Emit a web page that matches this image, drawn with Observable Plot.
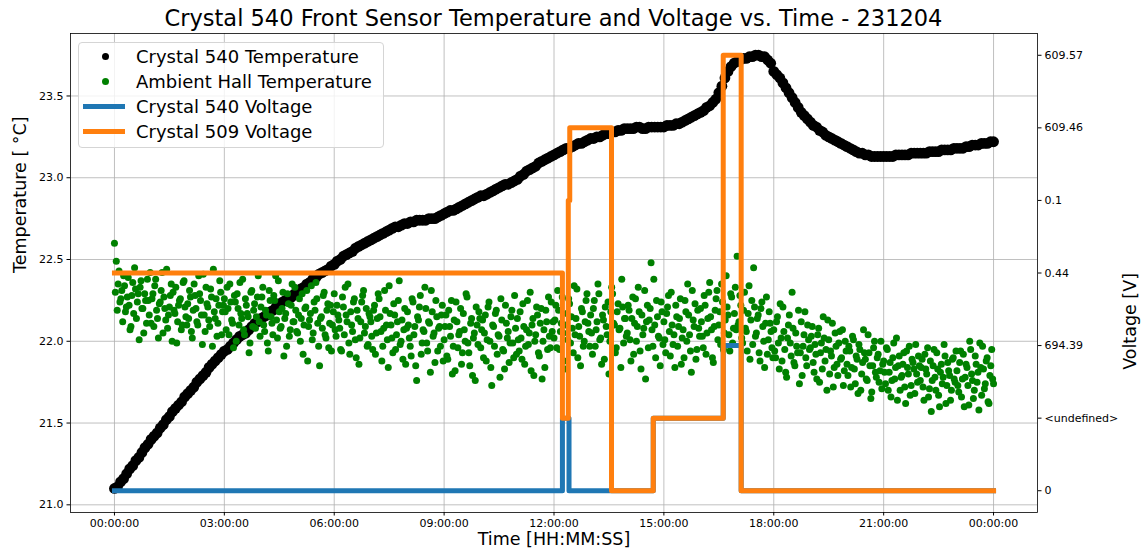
<!DOCTYPE html>
<html>
<head>
<meta charset="utf-8">
<script src="https://cdn.jsdelivr.net/npm/d3@7"></script>
<script src="https://cdn.jsdelivr.net/npm/@observablehq/plot@0.6"></script>
<style>
  body { margin: 0; background: #fff; font-family: "DejaVu Sans", sans-serif; }
  #wrap { position: relative; width: 1143px; height: 554px; overflow: hidden; }
  #title { position: absolute; left: 70px; width: 967px; top: 0; height: 33px; line-height: 36px; text-align: center; font-size: 22.5px; color: #000; white-space: nowrap; }
  #chart { position: absolute; left: 0; top: 32px; }
  #legend { position: absolute; left: 78px; top: 42px; width: 304px; height: 104px; border: 1px solid #d5d5d5; border-radius: 4px; background: rgba(255,255,255,0.8); }
  .row { position: absolute; left: 0; width: 300px; height: 25px; }
  .row .lab { position: absolute; left: 57px; top: 0; line-height: 25px; font-size: 18px; color: #000; white-space: nowrap; }
  .row .dot { position: absolute; left: 23px; top: 9px; width: 7px; height: 7px; border-radius: 50%; }
  .row .ln { position: absolute; left: 4px; top: 10px; width: 42px; height: 5px; }
</style>
</head>
<body>
<div id="wrap">
  <div id="title"></div>
  <div id="chart"></div>
  <div id="legend"></div>
</div>
<script>
// ---------------- data ----------------
const chartTitle = "Crystal 540 Front Sensor Temperature and Voltage vs. Time - 231204";
const xLabel = "Time [HH:MM:SS]";
const yLabelLeft = "Temperature [ °C]";
const yLabelRight = "Voltage [V]";
const seriesNames = ["Crystal 540 Temperature", "Ambient Hall Temperature", "Crystal 540 Voltage", "Crystal 509 Voltage"];

// Crystal 540 temperature, one sample every 5 minutes from 00:00:00
const crystalTempStepMin = 5;
const crystalTemp = [
  21.10, 21.11, 21.14, 21.16, 21.19, 21.22, 21.24, 21.27, 21.29, 21.32, 21.35, 21.37,
  21.40, 21.42, 21.44, 21.47, 21.49, 21.52, 21.54, 21.57, 21.59, 21.61, 21.63, 21.66,
  21.68, 21.70, 21.72, 21.75, 21.77, 21.79, 21.81, 21.84, 21.86, 21.88, 21.90, 21.92,
  21.94, 21.95, 21.97, 21.99, 22.01, 22.03, 22.04, 22.05, 22.07, 22.09, 22.11, 22.12,
  22.14, 22.15, 22.16, 22.18, 22.19, 22.21, 22.22, 22.24, 22.25, 22.26, 22.27, 22.29,
  22.30, 22.32, 22.33, 22.35, 22.36, 22.38, 22.39, 22.41, 22.42, 22.43, 22.44, 22.46,
  22.47, 22.49, 22.50, 22.52, 22.53, 22.54, 22.55, 22.57, 22.58, 22.59, 22.60, 22.61,
  22.62, 22.63, 22.64, 22.65, 22.66, 22.67, 22.68, 22.69, 22.70, 22.70, 22.71, 22.72,
  22.72, 22.73, 22.73, 22.74, 22.74, 22.74, 22.74, 22.75, 22.75, 22.75, 22.76, 22.77,
  22.78, 22.79, 22.80, 22.80, 22.81, 22.82, 22.83, 22.84, 22.85, 22.86, 22.87, 22.88,
  22.89, 22.89, 22.90, 22.91, 22.92, 22.93, 22.94, 22.95, 22.96, 22.96, 22.97, 22.98,
  22.99, 23.01, 23.02, 23.04, 23.05, 23.06, 23.07, 23.09, 23.10, 23.11, 23.12, 23.13,
  23.14, 23.15, 23.16, 23.17, 23.18, 23.18, 23.19, 23.20, 23.21, 23.21, 23.22, 23.23,
  23.24, 23.24, 23.25, 23.25, 23.26, 23.27, 23.27, 23.28, 23.28, 23.29, 23.29, 23.30,
  23.30, 23.30, 23.30, 23.31, 23.31, 23.30, 23.30, 23.31, 23.31, 23.31, 23.31, 23.31,
  23.31, 23.32, 23.32, 23.32, 23.33, 23.33, 23.34, 23.35, 23.36, 23.37, 23.38, 23.39,
  23.40, 23.41, 23.43, 23.44, 23.46, 23.48, 23.52, 23.56, 23.61, 23.65, 23.68, 23.70,
  23.71, 23.72, 23.73, 23.73, 23.74, 23.74, 23.75, 23.75, 23.74, 23.74, 23.72, 23.70,
  23.65, 23.63, 23.61, 23.58, 23.55, 23.52, 23.49, 23.46, 23.43, 23.40, 23.38, 23.36,
  23.34, 23.32, 23.31, 23.29, 23.28, 23.26, 23.25, 23.24, 23.23, 23.22, 23.21, 23.20,
  23.19, 23.18, 23.17, 23.16, 23.15, 23.15, 23.14, 23.14, 23.13, 23.13, 23.13, 23.13,
  23.13, 23.13, 23.13, 23.13, 23.14, 23.14, 23.14, 23.14, 23.14, 23.15, 23.15, 23.15,
  23.15, 23.15, 23.15, 23.16, 23.16, 23.16, 23.16, 23.17, 23.17, 23.17, 23.17, 23.18,
  23.18, 23.18, 23.18, 23.19, 23.19, 23.20, 23.20, 23.20, 23.21, 23.21, 23.21, 23.22,
  23.22
];

// Ambient hall temperature: samples every 3 minutes from 00:00:00 ...
const ambientStepMin = 3;
const ambientTemp = [
  22.60, 22.49, 22.35, 22.24, 22.31, 22.40, 22.18, 22.27, 22.22, 22.09, 22.36, 22.45, 22.14, 22.29, 22.33, 22.20, 22.05, 22.25, 22.38, 22.16,
  22.11, 22.29, 22.34, 22.19, 22.02, 22.24, 22.42, 22.27, 22.13, 22.08, 22.21, 22.35, 22.30, 22.17, 21.99, 22.22, 22.26, 22.10, 22.37, 22.15,
  22.23, 22.31, 22.06, 22.19, 22.28, 22.12, 22.40, 22.25, 21.98, 22.16, 22.33, 22.21, 22.09, 22.27, 22.44, 22.14, 22.03, 22.22, 22.30, 22.18,
  22.26, 22.07, 22.20, 22.35, 22.13, 21.96, 22.24, 22.29, 22.10, 22.17, 22.38, 22.04, 22.22, 22.15, 21.99, 22.31, 22.19, 22.08, 22.27, 22.12,
  22.21, 22.33, 22.06, 22.16, 21.94, 22.25, 22.11, 22.28, 22.40, 22.02, 22.18, 22.09, 22.30, 22.14, 21.97, 22.23, 22.07, 22.35, 22.12, 22.19,
  22.05, 22.26, 22.14, 21.92, 22.20, 22.31, 22.09, 22.17, 22.01, 22.24, 22.36, 22.11, 21.85, 22.15, 22.28, 22.04, 22.19, 21.96, 22.22, 22.10,
  22.29, 22.03, 22.16, 22.08, 21.94, 22.21, 22.33, 22.12, 21.99, 22.18, 22.06, 22.26, 21.90, 22.14, 22.02, 22.24, 22.31, 22.09, 21.97, 22.17,
  22.12, 21.95, 22.22, 22.05, 22.29, 22.15, 21.88, 22.08, 22.19, 22.01, 22.34, 22.10, 21.93, 22.16, 22.04, 22.25, 21.98, 22.13, 22.07, 21.86,
  22.18, 22.02, 21.91, 22.24, 22.09, 21.76, 22.13, 22.28, 21.99, 22.06, 22.20, 21.94, 22.11, 22.31, 22.03, 21.87, 22.15, 22.08, 21.97, 22.22,
  22.01, 22.16, 21.89, 22.09, 22.25, 21.97, 21.82, 22.12, 22.04, 22.20, 21.93, 22.07, 22.29, 21.99, 21.85, 22.14, 22.02, 21.76, 22.10, 22.18,
  21.96, 22.13, 22.05, 21.88, 22.21, 22.00, 21.73, 22.09, 22.17, 21.92, 22.03, 22.26, 21.95, 21.83, 22.11, 22.06, 21.99, 22.19, 21.90, 22.08,
  22.14, 21.94, 22.02, 22.23, 21.86, 22.07, 21.98, 22.30, 22.10, 21.79, 22.04, 22.16, 21.91, 22.20, 22.00, 21.84, 22.12, 22.27, 21.96, 22.06,
  22.02, 22.22, 22.31, 21.95, 22.11, 22.05, 21.83, 22.17, 22.26, 21.99, 22.08, 22.34, 22.14, 21.90, 22.03, 22.20, 21.97, 22.12, 22.29, 22.06,
  22.16, 21.92, 22.25, 22.07, 22.35, 22.01, 21.86, 22.13, 22.21, 22.04, 21.80, 22.18, 22.29, 22.10, 21.96, 22.23, 22.08, 22.38, 21.99, 22.14,
  22.05, 22.19, 21.88, 22.27, 22.11, 22.00, 22.33, 21.94, 22.16, 22.08, 21.77, 22.22, 22.13, 22.48, 21.97, 22.10, 22.25, 22.03, 21.85, 22.18,
  22.12, 21.93, 22.21, 22.06, 22.30, 21.98, 21.84, 22.15, 22.09, 22.26, 22.02, 21.90, 22.18, 22.35, 22.04, 21.81, 22.13, 22.23, 21.95, 22.08,
  22.20, 22.03, 22.28, 21.92, 22.14, 22.36, 22.07, 21.87, 22.19, 22.31, 22.10, 21.98, 22.24, 22.05, 22.40, 22.16, 21.94, 22.27, 22.08, 22.33,
  22.52, 22.12, 22.22, 21.99, 22.30, 22.06, 22.17, 21.89, 22.25, 22.45, 22.03, 22.14, 21.93, 22.20, 22.09, 21.84, 22.27, 22.01, 22.11, 21.96,
  22.07, 21.90, 22.15, 21.83, 22.02, 22.21, 21.95, 21.78, 22.10, 21.99, 22.30, 21.87, 22.05, 21.93, 21.74, 22.12, 21.97, 22.18, 21.85, 22.01,
  21.96, 22.09, 21.81, 21.92, 22.04, 21.75, 21.99, 22.15, 21.88, 21.70, 22.01, 21.94, 22.11, 21.84, 21.97, 21.79, 22.06, 21.90, 21.73, 22.00,
  21.86, 21.97, 21.72, 22.03, 21.83, 21.91, 21.68, 21.95, 21.80, 22.07, 21.89, 21.76, 21.93, 21.65, 21.85, 22.00, 21.78, 21.92, 21.82, 21.71,
  21.88, 21.74, 21.95, 21.81, 21.66, 21.90, 21.77, 22.02, 21.85, 21.70, 21.79, 21.93, 21.62, 21.84, 21.97, 21.73, 21.87, 21.68, 21.80, 21.91,
  21.76, 21.89, 21.64, 21.83, 21.96, 21.71, 21.57, 21.85, 21.78, 21.93, 21.67, 21.81, 21.74, 21.98, 21.62, 21.87, 21.79, 21.70, 21.90, 21.75,
  21.82, 21.69, 21.94, 21.77, 21.60, 21.86, 21.73, 22.00, 21.80, 21.65, 21.91, 21.75, 21.58, 21.84, 21.97, 21.71, 21.88, 21.63, 21.79, 21.95,
  21.74
];
// ... and the readings taken in between, every 3 minutes from 00:01:30
const ambientOffsetMin = 1.5;
const ambientTempBetween = [
  22.30, 22.19, 22.43, 22.26, 22.12, 22.34, 22.21, 22.39, 22.07, 22.28, 22.17, 22.32, 22.24, 22.01, 22.37, 22.20, 22.29, 22.11, 22.25, 22.42,
  22.26, 22.09, 22.38, 22.14, 22.23, 22.31, 22.05, 22.20, 22.44, 22.16, 22.28, 22.00, 22.19, 22.33, 22.12, 22.25, 22.07, 22.36, 22.21, 22.10,
  22.14, 22.27, 22.02, 22.35, 22.20, 22.10, 22.29, 22.16, 22.41, 22.06, 22.23, 22.13, 22.32, 21.97, 22.18, 22.26, 22.11, 22.37, 22.04, 22.22,
  22.18, 22.33, 22.04, 22.24, 22.11, 22.28, 22.00, 22.20, 22.36, 22.14, 22.07, 22.26, 22.17, 21.93, 22.30, 22.09, 22.23, 22.15, 22.40, 22.03,
  22.27, 22.10, 22.19, 21.99, 22.31, 22.15, 22.04, 22.25, 22.13, 22.37, 22.08, 22.20, 21.91, 22.17, 22.29, 22.03, 22.22, 22.12, 22.33, 22.06,
  22.16, 22.00, 22.29, 22.10, 22.21, 21.88, 22.13, 22.34, 22.05, 22.19, 22.26, 21.97, 22.14, 22.08, 22.30, 22.02, 22.23, 22.11, 21.94, 22.18,
  22.07, 22.22, 22.13, 21.95, 22.27, 22.04, 22.16, 22.35, 21.92, 22.10, 22.24, 22.01, 22.19, 21.86, 22.12, 22.28, 22.05, 22.20, 21.98, 22.15,
  22.03, 22.19, 21.92, 22.14, 22.26, 22.06, 21.97, 22.31, 22.10, 21.84, 22.17, 22.02, 22.23, 21.95, 22.12, 22.37, 22.00, 21.89, 22.20, 22.08,
  22.10, 21.97, 22.26, 22.04, 21.85, 22.15, 22.21, 21.92, 22.07, 22.33, 21.99, 22.12, 21.81, 22.18, 22.05, 22.25, 21.94, 22.09, 22.16, 21.88,
  22.09, 21.91, 22.19, 22.03, 21.80, 22.13, 22.24, 21.96, 22.06, 21.86, 22.17, 22.00, 22.27, 21.93, 22.11, 21.79, 22.05, 22.21, 21.98, 22.14,
  22.07, 21.90, 22.16, 22.01, 22.24, 21.84, 22.10, 21.97, 22.19, 22.04, 21.78, 22.13, 21.94, 22.22, 22.02, 21.87, 22.15, 21.99, 22.28, 21.92,
  22.01, 22.18, 21.89, 22.09, 21.97, 22.25, 22.05, 21.82, 22.14, 22.00, 22.21, 21.93, 22.11, 21.77, 22.07, 22.19, 21.95, 22.03, 22.24, 22.12,
  22.13, 21.96, 22.19, 22.06, 22.27, 21.88, 22.10, 22.01, 22.23, 22.15, 21.93, 22.04, 22.32, 22.09, 21.85, 22.18, 22.00, 22.25, 22.11, 21.97,
  22.05, 22.20, 21.97, 22.12, 22.29, 22.02, 22.16, 21.89, 22.09, 22.24, 22.00, 22.33, 22.11, 21.93, 22.18, 22.07, 21.84, 22.21, 22.14, 22.03,
  22.22, 22.01, 22.14, 21.92, 22.26, 22.09, 22.18, 21.83, 22.04, 22.31, 22.12, 21.96, 22.20, 22.07, 22.38, 21.90, 22.15, 22.02, 22.24, 21.98,
  22.01, 22.17, 22.28, 21.91, 22.10, 22.04, 22.22, 21.97, 22.14, 21.86, 22.07, 22.25, 22.00, 22.16, 21.94, 22.31, 22.09, 21.89, 22.19, 22.03,
  22.12, 21.96, 22.22, 22.05, 22.30, 22.15, 21.90, 22.09, 22.26, 22.01, 22.18, 22.35, 21.95, 22.13, 22.21, 22.04, 22.29, 21.99, 22.17, 22.07,
  22.10, 22.28, 22.02, 22.19, 22.08, 21.94, 22.34, 22.13, 21.98, 22.21, 22.05, 22.16, 21.88, 22.24, 22.00, 22.11, 21.92, 22.18, 22.06, 21.90,
  21.94, 22.12, 21.99, 22.23, 21.88, 22.06, 21.81, 22.02, 22.16, 21.91, 22.08, 21.85, 21.97, 22.19, 21.93, 21.79, 22.04, 21.90, 22.10, 21.95,
  22.03, 21.87, 21.98, 21.77, 22.08, 21.93, 21.83, 22.02, 21.95, 22.13, 21.80, 21.91, 21.72, 22.05, 21.86, 21.99, 21.89, 22.07, 21.82, 21.94,
  21.79, 21.94, 21.84, 22.01, 21.74, 21.89, 21.98, 21.70, 21.87, 21.93, 21.77, 22.04, 21.85, 21.69, 21.96, 21.81, 21.90, 21.75, 22.00, 21.86,
  21.81, 21.96, 21.70, 21.87, 21.76, 21.99, 21.84, 21.64, 21.91, 21.78, 21.86, 21.72, 21.94, 21.80, 21.67, 21.89, 21.83, 21.98, 21.75, 21.85,
  21.84, 21.72, 21.92, 21.80, 21.66, 21.88, 21.76, 21.95, 21.70, 21.83, 21.60, 21.86, 21.78, 21.91, 21.73, 21.82, 21.64, 21.89, 21.77, 21.94,
  21.73, 21.87, 21.66, 21.92, 21.78, 21.84, 21.61, 21.95, 21.76, 21.70, 21.86, 21.81, 21.99, 21.67, 21.83, 21.74, 21.90, 21.62, 21.85, 21.77
];

// Voltage readings (categorical axis, in order of first appearance)
const voltageCategories = ["0", "<undefined>", "694.39", "0.44", "0.1", "609.46", "609.57"];
const c540VoltHours  = [0, 12.23, 12.41, 14.71, 16.62, 17.11, 24];
const c540VoltValues = ["0", "<undefined>", "0", "<undefined>", "694.39", "0", "0"];
const c509VoltHours  = [0, 12.23, 12.39, 12.43, 13.57, 14.71, 16.62, 17.11, 24];
const c509VoltValues = ["0.44", "<undefined>", "0.1", "609.46", "0", "<undefined>", "609.57", "0", "0"];

// axis ticks
const xTickHours = [0, 3, 6, 9, 12, 15, 18, 21, 24];
const yTicks = [21.0, 21.5, 22.0, 22.5, 23.0, 23.5];

// ---------------- build ----------------
const T0 = Date.UTC(2023, 11, 4);
const toDate = h => new Date(T0 + h * 3600e3);
const yDomain = [20.953, 23.882];           // temperature axis
const vDomain = [-0.3, 6.3];                // voltage category-index axis
const vToY = d3.scaleLinear().domain(vDomain).range(yDomain);
const voltY = label => vToY(voltageCategories.indexOf(label));

const crystalData = crystalTemp.map((t, i) => ({time: toDate(i * crystalTempStepMin / 60), temp: t}));
const ambientData = ambientTemp.map((t, i) => ({time: toDate(i * ambientStepMin / 60), temp: t}))
  .concat(ambientTempBetween.map((t, i) => ({time: toDate((ambientOffsetMin + i * ambientStepMin) / 60), temp: t})))
  .sort((a, b) => a.time - b.time);
const c540Data = c540VoltHours.map((h, i) => ({time: toDate(h), v: voltY(c540VoltValues[i])}));
const c509Data = c509VoltHours.map((h, i) => ({time: toDate(h), v: voltY(c509VoltValues[i])}));
const xTicks = xTickHours.map(toDate);
const vTicks = voltageCategories.map(voltY);
const fmtTime = d3.utcFormat("%H:%M:%S");

const gridStyle = {stroke: "#b0b0b0", strokeOpacity: 1, strokeWidth: 0.8};

const chart = Plot.plot({
  width: 1143,
  height: 522,
  marginTop: 1,
  marginLeft: 70,
  marginRight: 106,
  marginBottom: 42,
  style: {fontFamily: "DejaVu Sans, sans-serif", fontSize: "11px", color: "#000", background: "transparent"},
  x: {type: "utc", domain: [toDate(-1.2), toDate(25.2)]},
  y: {domain: yDomain},
  marks: [
    Plot.gridX(xTicks, gridStyle),
    Plot.gridY(yTicks, gridStyle),
    Plot.dot(crystalData, {x: "time", y: "temp", r: 5.4, fill: "black", stroke: null}),
    Plot.dot(ambientData, {x: "time", y: "temp", r: 3.5, fill: "green", stroke: null}),
    Plot.line(c540Data, {x: "time", y: "v", curve: "step-after", stroke: "#1f77b4", strokeWidth: 5, strokeLinecap: "square", strokeLinejoin: "round"}),
    Plot.line(c509Data, {x: "time", y: "v", curve: "step-after", stroke: "#ff7f0e", strokeWidth: 5, strokeLinecap: "square", strokeLinejoin: "round"}),
    Plot.frame({stroke: "#000", strokeWidth: 0.8}),
    Plot.axisX(xTicks, {tickFormat: fmtTime, tickSize: 3.5, tickPadding: 3.5, label: null, fontSize: 11}),
    Plot.axisY(yTicks, {anchor: "left", tickFormat: d3.format(".1f"), tickSize: 3.5, tickPadding: 3.5, label: null, fontSize: 11}),
    Plot.axisY(vTicks, {anchor: "right", tickFormat: d => voltageCategories[Math.round(vToY.invert(d))], tickSize: 3.5, tickPadding: 3.5, label: null, fontSize: 11}),
    Plot.text([xLabel], {text: d => d, frameAnchor: "bottom", dy: 32, fontSize: 17.5, fill: "#000"}),
    Plot.text([yLabelLeft], {text: d => d, frameAnchor: "left", dx: -50, rotate: -90, fontSize: 17.5, fill: "#000"}),
    Plot.text([yLabelRight], {text: d => d, frameAnchor: "right", dx: 93, rotate: -90, fontSize: 17.5, fill: "#000"})
  ]
});
document.getElementById("chart").appendChild(chart);
document.getElementById("title").textContent = chartTitle;

// legend
const legend = document.getElementById("legend");
const handles = [
  {kind: "dot", color: "black"},
  {kind: "dot", color: "green"},
  {kind: "ln", color: "#1f77b4"},
  {kind: "ln", color: "#ff7f0e"}
];
seriesNames.forEach((name, i) => {
  const row = document.createElement("div");
  row.className = "row";
  row.style.top = (1 + i * 25) + "px";
  const h = document.createElement("div");
  h.className = handles[i].kind;
  h.style.background = handles[i].color;
  row.appendChild(h);
  const lab = document.createElement("div");
  lab.className = "lab";
  lab.textContent = name;
  row.appendChild(lab);
  legend.appendChild(row);
});
</script>
</body>
</html>
